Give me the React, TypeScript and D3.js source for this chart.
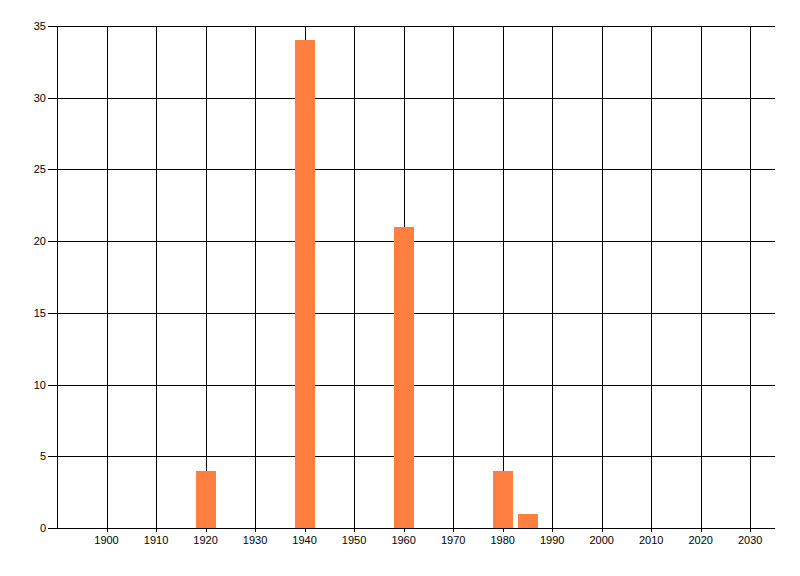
import React from "react";
import * as d3 from "d3";

const years = [1920, 1940, 1960, 1980, 1985];
const counts = [4, 34, 21, 4, 1];
const xTicks = [1900, 1910, 1920, 1930, 1940, 1950, 1960, 1970, 1980, 1990, 2000, 2010, 2020, 2030];
const yTicks = [0, 5, 10, 15, 20, 25, 30, 35];

const W = 800;
const H = 576;
const left = 57;
const right = 775;
const top = 26;
const bottom = 528;

export default function App() {
  const x = d3.scaleLinear().domain([1890, 2035]).range([left, right]);
  const y = d3.scaleLinear().domain([0, 35]).range([bottom, top]);
  const bw = x(1894) - x(1890);
  const px = (v: number) => Math.round(v) + 0.5;
  const font = "'Liberation Sans', Arial, sans-serif";
  return (
    <svg
      width={W}
      height={H}
      style={{ position: "fixed", left: 0, top: 0, background: "#fff" }}
      shapeRendering="crispEdges"
    >
      <rect x={0} y={0} width={W} height={H} fill="#fff" />
      {yTicks.map((t) => (
        <g key={"y" + t}>
          <line x1={left - 9} x2={right} y1={px(y(t))} y2={px(y(t))} stroke="#000" strokeWidth={1} />
          <text
            x={left - 11}
            y={y(t) + 4}
            textAnchor="end"
            fontFamily={font}
            fontSize={11}
            fill="#000"
          >
            {t}
          </text>
        </g>
      ))}
      <line x1={px(left)} x2={px(left)} y1={top} y2={bottom + 1} stroke="#000" strokeWidth={1} />
      {xTicks.map((t) => (
        <g key={"x" + t}>
          <line x1={px(x(t))} x2={px(x(t))} y1={top} y2={bottom + 4} stroke="#000" strokeWidth={1} />
          <text
            x={x(t)}
            y={bottom + 16}
            textAnchor="middle"
            fontFamily={font}
            fontSize={11}
            fill="#000"
          >
            {t}
          </text>
        </g>
      ))}
      {years.map((yr, i) => (
        <rect
          key={yr}
          x={Math.round(x(yr) - bw / 2)}
          y={Math.round(y(counts[i]))}
          width={Math.round(bw)}
          height={Math.round(y(0)) - Math.round(y(counts[i]))}
          fill="#ff7f40"
        />
      ))}
    </svg>
  );
}
